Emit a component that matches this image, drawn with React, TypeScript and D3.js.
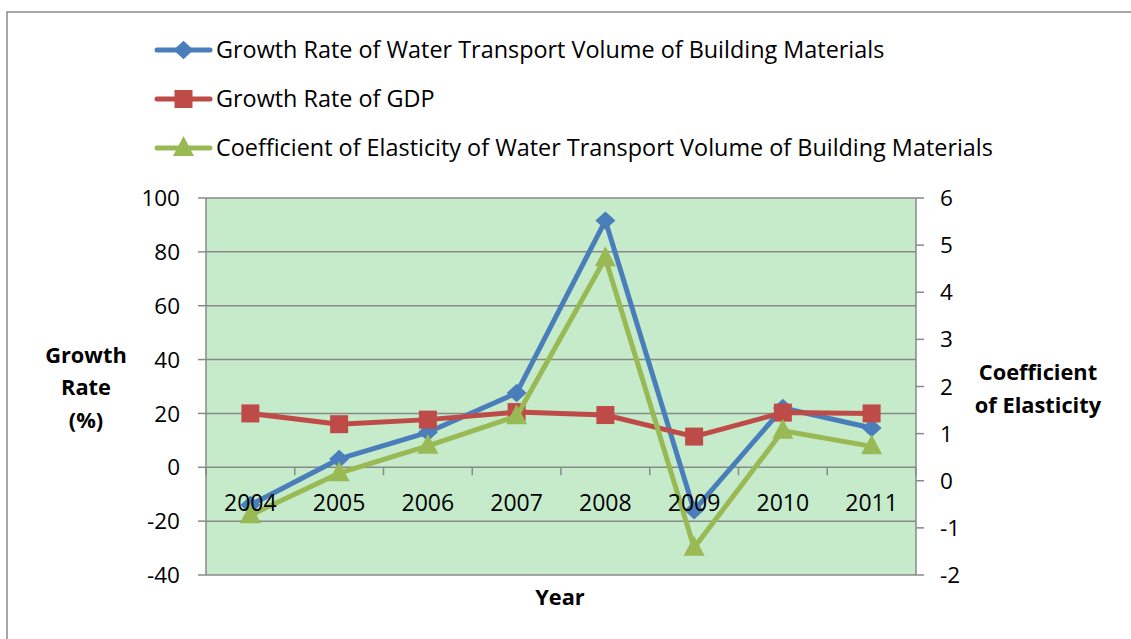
import React from 'react';
import { scaleBand, scaleLinear, line, symbol, symbolSquare } from 'd3';

const years = ['2004', '2005', '2006', '2007', '2008', '2009', '2010', '2011'];
const waterGrowth = [-14, 3.1, 13, 27.6, 91.6, -16, 22, 14.6];
const gdpGrowth = [20, 16, 17.7, 20.5, 19.4, 11.4, 20.3, 20];
const elasticity = [-0.73, 0.16, 0.74, 1.37, 4.72, -1.42, 1.06, 0.73];
const leftTicks = [100, 80, 60, 40, 20, 0, -20, -40];
const rightTicks = [6, 5, 4, 3, 2, 1, 0, -1, -2];
const seriesNames = [
  'Growth Rate of Water Transport Volume of Building Materials',
  'Growth Rate of GDP',
  'Coefficient of Elasticity of Water Transport Volume of Building Materials',
];

const BLUE = '#4A7EBB';
const RED = '#BE4B48';
const GREEN = '#98B954';
const GRID = '#898989';
const FONT = '"Open Sans", sans-serif';

// marker shapes for d3.symbol (size = width in px here)
const diamondType = {
  draw(ctx: any, size: number) {
    const r = size / 2;
    ctx.moveTo(0, -r * 0.92);
    ctx.lineTo(r, 0);
    ctx.lineTo(0, r * 0.92);
    ctx.lineTo(-r, 0);
    ctx.closePath();
  },
};
const triangleType = {
  draw(ctx: any, size: number) {
    const w = size / 2;
    const h = size * 0.95;
    ctx.moveTo(0, -h * 0.6);
    ctx.lineTo(w, h * 0.4);
    ctx.lineTo(-w, h * 0.4);
    ctx.closePath();
  },
};

export default function App() {
  const left = 206, right = 916, top = 198, bottom = 575;
  const x = scaleBand().domain(years).range([left, right]);
  const yL = scaleLinear().domain([-40, 100]).range([bottom, top]);
  const yR = scaleLinear().domain([-2, 6]).range([bottom, top]);
  const cx = (d: string) => (x(d) as number) + x.bandwidth() / 2;

  const lineL = line<number>().x((_, i) => cx(years[i])).y((d) => yL(d));
  const lineR = line<number>().x((_, i) => cx(years[i])).y((d) => yR(d));

  const diamond = symbol().type(diamondType as any).size(20)() as string;
  const square = symbol().type(symbolSquare).size(18 * 18)() as string;
  const triangle = symbol().type(triangleType as any).size(21)() as string;

  const series = [
    { vals: waterGrowth, color: BLUE, path: lineL, y: yL, marker: diamond },
    { vals: gdpGrowth, color: RED, path: lineL, y: yL, marker: square },
    { vals: elasticity, color: GREEN, path: lineR, y: yR, marker: triangle },
  ];

  return (
    <svg width={1131} height={639} style={{ position: 'absolute', left: 0, top: 0 }} fontFamily={FONT}>
      <rect x={0} y={0} width={1131} height={639} fill="#fff" />
      <rect x={7} y={12} width={1140} height={650} fill="none" stroke="#8a8a8a" strokeWidth={1.5} />

      {/* legend */}
      {seriesNames.map((n, i) => {
        const ly = [50, 99, 148][i];
        const s = series[i];
        return (
          <g key={n}>
            <line x1={157} x2={210} y1={ly} y2={ly} stroke={s.color} strokeWidth={5} strokeLinecap="round" />
            <path d={s.marker} transform={`translate(183.5,${ly})`} fill={s.color} />
            <text x={216} y={ly} dy="0.36em" fontSize={23.4} fill="#000">{n}</text>
          </g>
        );
      })}

      {/* plot area */}
      <rect x={left} y={top} width={right - left} height={bottom - top} fill="#C6EBCB" />
      {leftTicks.map((t) => (
        <g key={t}>
          <line x1={left} x2={right} y1={yL(t)} y2={yL(t)} stroke={GRID} strokeWidth={1.5} />
          <line x1={left - 8} x2={left} y1={yL(t)} y2={yL(t)} stroke={GRID} strokeWidth={1.5} />
          <text x={180} y={yL(t)} dy="0.36em" textAnchor="end" fontSize={22.5}>{t}</text>
        </g>
      ))}
      <line x1={left} x2={left} y1={top} y2={bottom} stroke={GRID} strokeWidth={1.5} />
      <line x1={right} x2={right} y1={top} y2={bottom} stroke={GRID} strokeWidth={1.5} />
      {rightTicks.map((t) => (
        <g key={t}>
          <line x1={right} x2={right + 8} y1={yR(t)} y2={yR(t)} stroke={GRID} strokeWidth={1.5} />
          <text x={940} y={yR(t)} dy="0.36em" fontSize={22.5}>{t}</text>
        </g>
      ))}

      {/* category axis ticks at zero */}
      {years.map((yr) => (
        <line key={yr} x1={x(yr) as number} x2={x(yr) as number} y1={yL(0)} y2={yL(0) + 8} stroke={GRID} strokeWidth={1.5} />
      ))}
      <line x1={right} x2={right} y1={yL(0)} y2={yL(0) + 8} stroke={GRID} strokeWidth={1.5} />

      {/* series */}
      {series.map((s, i) => (
        <g key={i}>
          <path d={s.path(s.vals) as string} fill="none" stroke={s.color} strokeWidth={5} strokeLinejoin="round" />
          {s.vals.map((v, j) => (
            <path key={j} d={s.marker} transform={`translate(${cx(years[j])},${s.y(v)})`} fill={s.color} />
          ))}
        </g>
      ))}

      {/* category labels drawn above the lines */}
      {years.map((yr) => (
        <text key={yr} x={cx(yr)} y={503} dy="0.36em" textAnchor="middle" fontSize={23}>{yr}</text>
      ))}

      {/* axis titles */}
      <g fontWeight="bold" fontSize={21.8} textAnchor="middle">
        <text x={86} y={355} dy="0.36em">Growth</text>
        <text x={86} y={387} dy="0.36em">Rate</text>
        <text x={86} y={420} dy="0.36em">(%)</text>
        <text x={1038} y={372} dy="0.36em">Coefficient</text>
        <text x={1038} y={405} dy="0.36em">of Elasticity</text>
        <text x={560} y={597} dy="0.36em">Year</text>
      </g>
    </svg>
  );
}
